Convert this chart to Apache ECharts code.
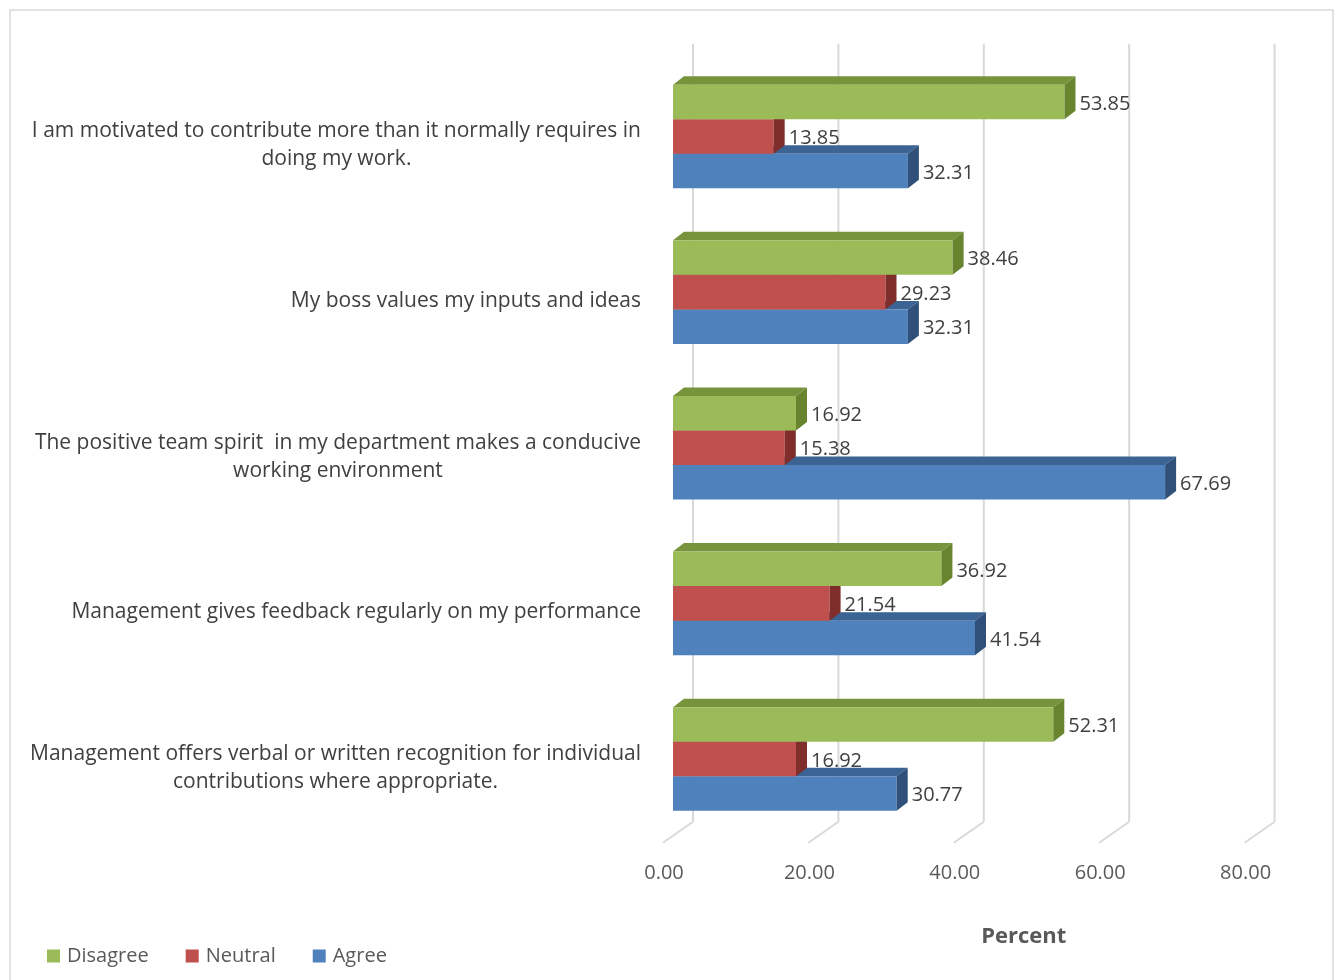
<!DOCTYPE html>
<html>
<head>
<meta charset="utf-8">
<script src="https://cdn.jsdelivr.net/npm/echarts@6/dist/echarts.min.js"></script>
<style>
  html, body { margin: 0; padding: 0; background: #ffffff; }
  #chart { width: 1338px; height: 980px; }
</style>
</head>
<body>
<div id="chart"></div>
<script>
// Survey statements, listed top to bottom
const categories = [
  'I am motivated to contribute more than it normally requires in\ndoing my work.',
  'My boss values my inputs and ideas',
  'The positive team spirit  in my department makes a conducive\nworking environment',
  'Management gives feedback regularly on my performance',
  'Management offers verbal or written recognition for individual\ncontributions where appropriate.'
];
// Percent of respondents per statement
const disagree = [53.85, 38.46, 16.92, 36.92, 52.31];
const neutral  = [13.85, 29.23, 15.38, 21.54, 16.92];
const agree    = [32.31, 32.31, 67.69, 41.54, 30.77];
// Value axis ticks
const xTicks = [0, 20, 40, 60, 80];

const FONT = '"Open Sans", "DejaVu Sans", sans-serif';

// Oblique depth of the bar prisms and of the wall/floor
const BAR_DX = 11, BAR_DY = -8.5;
const WALL_BACK_DX = 20, WALL_BACK_DY = -15;
const FLOOR_FRONT_DX = -10, FLOOR_FRONT_DY = 6;
const BAR_FRAC = 0.222; // bar thickness as a fraction of the category band

// slot: 0 = upper bar, 1 = middle, 2 = lower bar within a category
function prismRenderer(slot, face, top, side) {
  return function (params, api) {
    const ci = api.value(0);
    const v = api.value(1);
    const p0 = api.coord([0, ci]);
    const p1 = api.coord([v, ci]);
    const band = api.size([0, 1])[1];
    const h = band * BAR_FRAC;
    const x0 = p0[0], x1 = p1[0];
    const yT = p0[1] + (slot - 1.5) * h;
    const yB = yT + h;
    return {
      type: 'group',
      children: [
        { type: 'polygon', shape: { points: [[x0, yT], [x1, yT], [x1 + BAR_DX, yT + BAR_DY], [x0 + BAR_DX, yT + BAR_DY]] }, style: { fill: top } },
        { type: 'rect', shape: { x: x0, y: yT, width: x1 - x0, height: h }, style: { fill: face } },
        { type: 'polygon', shape: { points: [[x1, yT], [x1 + BAR_DX, yT + BAR_DY], [x1 + BAR_DX, yB + BAR_DY], [x1, yB]] }, style: { fill: side } },
        { type: 'text', x: x1 + 15, y: yT + h / 2 + 2,
          style: { text: v.toFixed(2), fill: '#404040', font: '20px ' + FONT, textAlign: 'left', textVerticalAlign: 'middle' } }
      ]
    };
  };
}

// Back wall gridlines with their floor diagonals
function wallRenderer(params, api) {
  const cs = params.coordSys;
  const px = api.coord([api.value(0), 0])[0];
  const bottom = cs.y + cs.height;
  const lineStyle = { stroke: '#d9d9d9', lineWidth: 2, fill: null };
  return {
    type: 'group',
    children: [
      { type: 'line', shape: { x1: px + WALL_BACK_DX, y1: cs.y + WALL_BACK_DY, x2: px + WALL_BACK_DX, y2: bottom + WALL_BACK_DY }, style: lineStyle },
      { type: 'line', shape: { x1: px + WALL_BACK_DX, y1: bottom + WALL_BACK_DY, x2: px + FLOOR_FRONT_DX, y2: bottom + FLOOR_FRONT_DY }, style: lineStyle }
    ]
  };
}

const toPairs = arr => arr.map((v, i) => [i, v]);

const chart = echarts.init(document.getElementById('chart'), null, { renderer: 'canvas' });
chart.setOption({
  backgroundColor: '#ffffff',
  animation: false,
  textStyle: { fontFamily: FONT },
  graphic: [
    { type: 'rect', shape: { x: 10, y: 10, width: 1323, height: 990 }, style: { fill: null, stroke: '#d9d9d9', lineWidth: 1.5 }, z: 0 }
  ],
  grid: { left: 673, right: 83.4, top: 58.7, bottom: 143.2, containLabel: false },
  xAxis: {
    type: 'value',
    min: 0, max: 80, interval: 20,
    axisLine: { show: false },
    axisTick: { show: false },
    splitLine: { show: false },
    axisLabel: {
      margin: 26,
      fontSize: 20,
      color: '#595959',
      fontFamily: FONT,
      padding: [0, 18, 0, 0],
      formatter: v => v.toFixed(2)
    },
    name: 'Percent',
    nameLocation: 'middle',
    nameGap: 89,
    nameTextStyle: { fontSize: 22, fontWeight: 'bold', color: '#595959', fontFamily: FONT, padding: [0, 0, 0, 120] }
  },
  yAxis: {
    type: 'category',
    inverse: true,
    data: categories,
    axisLine: { show: false },
    axisTick: { show: false },
    splitLine: { show: false },
    axisLabel: {
      margin: 32,
      fontSize: 21,
      lineHeight: 28,
      color: '#404040',
      padding: [18, 0, 0, 0],
      formatter: v => v.split('\n').map(l => '{c|' + l + '}').join('\n'),
      rich: { c: { align: 'center', fontSize: 21, lineHeight: 28, color: '#404040', fontFamily: FONT } }
    }
  },
  legend: {
    data: ['Disagree', 'Neutral', 'Agree'],
    left: 42,
    top: 941,
    icon: 'rect',
    itemWidth: 13,
    itemHeight: 13,
    itemGap: 37,
    textStyle: { fontSize: 20, color: '#595959', fontFamily: FONT, padding: [0, 0, 0, 2] }
  },
  series: [
    {
      name: 'wall', type: 'custom', renderItem: wallRenderer, silent: true, z: 1,
      data: xTicks.map(t => [t, 0]), encode: { x: 0, y: 1 }
    },
    {
      name: 'Agree', type: 'custom', z: 2, color: '#4F81BD',
      renderItem: prismRenderer(2, '#4F81BD', '#3B6393', '#2F5079'),
      data: toPairs(agree), encode: { x: 1, y: 0 }
    },
    {
      name: 'Neutral', type: 'custom', z: 3, color: '#C0504D',
      renderItem: prismRenderer(1, '#C0504D', '#9A3B38', '#7F2E2C'),
      data: toPairs(neutral), encode: { x: 1, y: 0 }
    },
    {
      name: 'Disagree', type: 'custom', z: 4, color: '#9BBB59',
      renderItem: prismRenderer(0, '#9BBB59', '#77933C', '#68842F'),
      data: toPairs(disagree), encode: { x: 1, y: 0 }
    }
  ]
});
</script>
</body>
</html>
